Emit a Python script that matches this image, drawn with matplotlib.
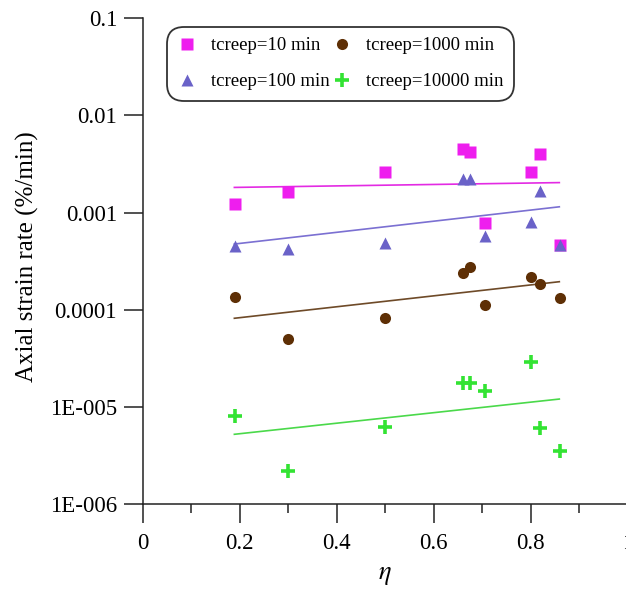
import matplotlib
matplotlib.use('Agg')
import matplotlib.pyplot as plt
import numpy as np

plt.rcParams['font.family'] = ['Liberation Serif', 'DejaVu Serif']
plt.rcParams['mathtext.fontset'] = 'stix'

# eta values (same for every creep time)
eta = [0.19, 0.30, 0.50, 0.66, 0.675, 0.705, 0.80, 0.82, 0.86]

# axial strain rate (%/min)
rate_10 = [1.23e-3, 1.62e-3, 2.64e-3, 4.49e-3, 4.18e-3, 7.9e-4, 2.61e-3, 4.02e-3, 4.66e-4]
rate_100 = [4.58e-4, 4.2e-4, 4.9e-4, 2.22e-3, 2.2e-3, 5.75e-4, 7.96e-4, 1.67e-3, 4.6e-4]
rate_1000 = [1.37e-4, 4.99e-5, 8.2e-5, 2.42e-4, 2.78e-4, 1.12e-4, 2.2e-4, 1.85e-4, 1.34e-4]
rate_10000 = [8.17e-6, 2.2e-6, 6.28e-6, 1.76e-5, 1.78e-5, 1.48e-5, 2.89e-5, 6.05e-6, 3.56e-6]

# trend line ends
fit_eta = [0.189, 0.859]
fit_10 = [1.82e-3, 2.04e-3]
fit_100 = [4.76e-4, 1.15e-3]
fit_1000 = [8.2e-5, 1.95e-4]
fit_10000 = [5.25e-6, 1.21e-5]

labels = ['tcreep=10 min', 'tcreep=100 min', 'tcreep=1000 min', 'tcreep=10000 min']
ytick_vals = [1e-6, 1e-5, 1e-4, 1e-3, 1e-2, 1e-1]
ytick_labels = ['1E-006', '1E-005', '0.0001', '0.001', '0.01', '0.1']
xtick_vals = [0, 0.2, 0.4, 0.6, 0.8, 1.0]
xtick_labels = ['0', '0.2', '0.4', '0.6', '0.8', '1']

fig = plt.figure(figsize=(6.26, 5.9), dpi=100)
ax = fig.add_axes([142.7 / 626, 1 - 504.3 / 590, 485 / 626, 486 / 590])

c10, c100, c1000, c10000 = '#EE1EEE', '#6A62C8', '#5E2F05', '#33E333'

ax.plot(fit_eta, fit_10, color='#E32AE3', lw=1.2, zorder=2)
ax.plot(fit_eta, fit_100, color='#7B70D2', lw=1.2, zorder=2)
ax.plot(fit_eta, fit_1000, color='#6E4A28', lw=1.2, zorder=2)
ax.plot(fit_eta, fit_10000, color='#4AD94A', lw=1.2, zorder=2)

h10, = ax.plot(eta, rate_10, 's', color=c10, ms=8, mec='none', zorder=3)
h100, = ax.plot(eta, rate_100, '^', color=c100, ms=9, mec='none', zorder=4)
h1000, = ax.plot(eta, rate_1000, 'o', color=c1000, ms=8, mec='none', zorder=3)
h10000, = ax.plot(eta, rate_10000, '+', color=c10000, ms=10, mew=2.6, zorder=3)

ax.set_yscale('log')
ax.set_ylim(1e-6, 0.1)
ax.set_xlim(0, 1)
ax.set_yticks(ytick_vals)
ax.set_yticklabels(ytick_labels)
ax.yaxis.set_minor_locator(matplotlib.ticker.NullLocator())
ax.set_xticks(xtick_vals)
ax.set_xticklabels(xtick_labels)
ax.set_xticks([0.1, 0.3, 0.5, 0.7, 0.9], minor=True)

for s in ['top', 'right']:
    ax.spines[s].set_visible(False)
for s in ['left', 'bottom']:
    ax.spines[s].set_linewidth(1.1)
    ax.spines[s].set_color('#222222')

ax.tick_params(axis='both', which='major', length=13.5, width=1.1, color='#222222',
               labelsize=16.5, direction='out')
ax.tick_params(axis='x', which='minor', length=6.5, width=1.1, color='#222222')
ax.tick_params(axis='y', pad=5)
ax.tick_params(axis='x', pad=7)

ax.set_ylabel('Axial strain rate (%/min)', fontsize=18)
ax.yaxis.set_label_coords(-0.214, 0.509)
ax.set_xlabel(r'$\eta$', fontsize=19)
ax.xaxis.set_label_coords(0.5, -0.125)

leg = ax.legend([h10, h100, h1000, h10000], labels, ncol=2, fontsize=13.5,
                loc='upper left', bbox_to_anchor=(167 / 626, 1 - 27 / 590),
                bbox_transform=fig.transFigure, frameon=True, fancybox=True,
                handlelength=1.0, handletextpad=0.8, columnspacing=0.15,
                labelspacing=1.0, borderpad=0.55, borderaxespad=0)
frame = leg.get_frame()
frame.set_edgecolor('#333333')
frame.set_linewidth(1.3)
frame.set_alpha(1)
frame.set_boxstyle('round,pad=0,rounding_size=0.9')

fig.savefig('out.png', dpi=100)
